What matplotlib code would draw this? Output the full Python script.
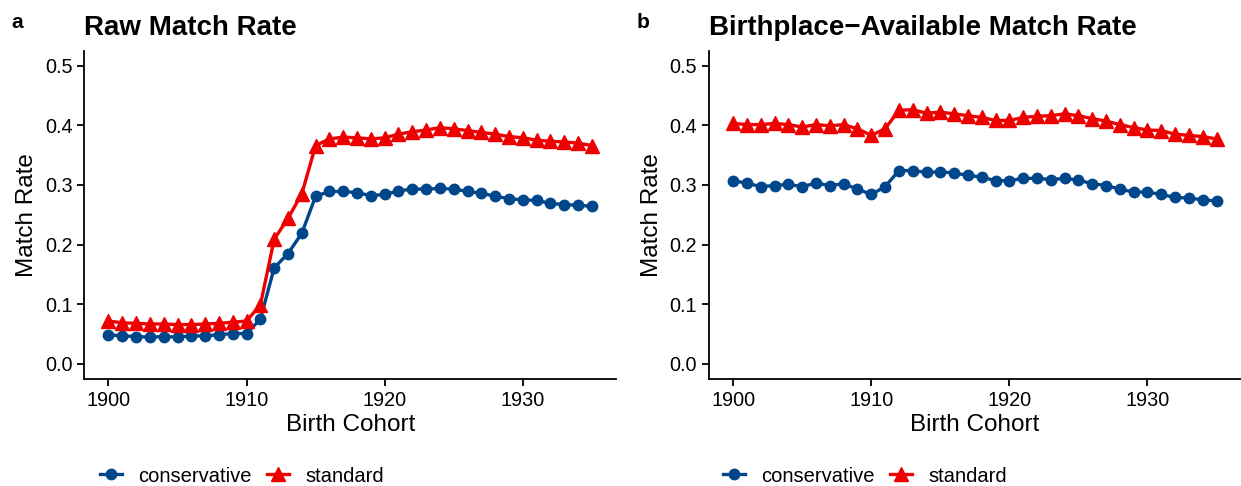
import matplotlib
matplotlib.use("Agg")
import matplotlib.pyplot as plt
from matplotlib.lines import Line2D

plt.rcParams['font.family'] = ['Liberation Sans', 'DejaVu Sans']

years = list(range(1900, 1936))

raw_conservative = [0.049, 0.047, 0.046, 0.045, 0.046, 0.045, 0.047, 0.047, 0.049, 0.051,
                    0.051, 0.075, 0.161, 0.185, 0.219, 0.281, 0.289, 0.289, 0.287, 0.282,
                    0.284, 0.290, 0.293, 0.293, 0.294, 0.293, 0.289, 0.286, 0.281, 0.277,
                    0.275, 0.274, 0.269, 0.267, 0.266, 0.264]
raw_standard = [0.072, 0.069, 0.068, 0.067, 0.067, 0.066, 0.066, 0.067, 0.068, 0.070,
                0.072, 0.099, 0.209, 0.244, 0.285, 0.366, 0.377, 0.380, 0.379, 0.377,
                0.379, 0.385, 0.389, 0.392, 0.396, 0.394, 0.391, 0.388, 0.385, 0.381,
                0.379, 0.375, 0.373, 0.372, 0.370, 0.366]

bp_conservative = [0.307, 0.303, 0.297, 0.299, 0.301, 0.297, 0.303, 0.299, 0.302, 0.293,
                   0.284, 0.297, 0.324, 0.324, 0.321, 0.322, 0.320, 0.316, 0.313, 0.307,
                   0.307, 0.311, 0.311, 0.309, 0.311, 0.308, 0.302, 0.299, 0.293, 0.288,
                   0.288, 0.284, 0.279, 0.278, 0.275, 0.273]
bp_standard = [0.403, 0.401, 0.401, 0.403, 0.401, 0.397, 0.401, 0.399, 0.401, 0.394,
               0.383, 0.394, 0.425, 0.426, 0.420, 0.422, 0.419, 0.416, 0.413, 0.408,
               0.408, 0.413, 0.415, 0.416, 0.419, 0.416, 0.411, 0.407, 0.401, 0.396,
               0.392, 0.391, 0.385, 0.383, 0.381, 0.377]

titles = ["Raw Match Rate", "Birthplace\u2212Available Match Rate"]
panel_tags = ["a", "b"]
series_names = ["conservative", "standard"]
x_ticks = [1900, 1910, 1920, 1930]
y_ticks = [0.0, 0.1, 0.2, 0.3, 0.4, 0.5]

BLUE = "#00468B"
RED = "#ED0000"

W, H = 1241, 486
fig = plt.figure(figsize=(W / 100, H / 100), dpi=100)

axes_px = [(84.3, 50.6, 616.0, 378.9), (709.0, 50.6, 1240.7, 378.9)]
tag_x = [17, 643]
legend_x = [100, 723]
data = [(raw_conservative, raw_standard), (bp_conservative, bp_standard)]

LW = 2.4
MS_C = 7.5
MS_T = 9.5
for i, (x0, y0, x1, y1) in enumerate(axes_px):
    ax = fig.add_axes([x0 / W, 1 - y1 / H, (x1 - x0) / W, (y1 - y0) / H])
    cons, std = data[i]
    ax.plot(years, cons, color=BLUE, lw=LW, marker='o', ms=MS_C, label=series_names[0],
            solid_joinstyle='round')
    ax.plot(years, std, color=RED, lw=LW, marker='^', ms=MS_T, label=series_names[1],
            solid_joinstyle='round')
    ax.set_xlim(1898.25, 1936.75)
    ax.set_ylim(-0.025, 0.525)
    ax.set_xticks(x_ticks)
    ax.set_xticklabels([str(t) for t in x_ticks])
    ax.set_yticks(y_ticks)
    ax.set_yticklabels([f"{t:.1f}" for t in y_ticks])
    for s in ['top', 'right']:
        ax.spines[s].set_visible(False)
    for s in ['left', 'bottom']:
        ax.spines[s].set_linewidth(1.3)
        ax.spines[s].set_color('black')
    ax.tick_params(axis='both', labelsize=14.3, colors='black', width=1.3, length=5, pad=3.5)
    ax.set_xlabel("Birth Cohort", fontsize=17.5, labelpad=3)
    ax.set_ylabel("Match Rate", fontsize=17.5, labelpad=5)
    ax.set_title(titles[i], loc='left', fontsize=20, fontweight='bold', pad=11)
    fig.text(tag_x[i] / W, 1 - 23 / H, panel_tags[i], fontsize=15, fontweight='bold',
             ha='center', va='center')
    handles = [Line2D([0], [0], color=BLUE, lw=LW, marker='o', ms=MS_C),
               Line2D([0], [0], color=RED, lw=LW, marker='^', ms=MS_T)]
    fig.legend(handles, series_names, loc='center left',
               bbox_to_anchor=(legend_x[i] / W, 1 - 476 / H),
               ncol=2, frameon=False, fontsize=14.5, handlelength=1.1,
               columnspacing=0.75, handletextpad=0.8, borderpad=0, borderaxespad=0)

fig.savefig("out.png", dpi=100)
